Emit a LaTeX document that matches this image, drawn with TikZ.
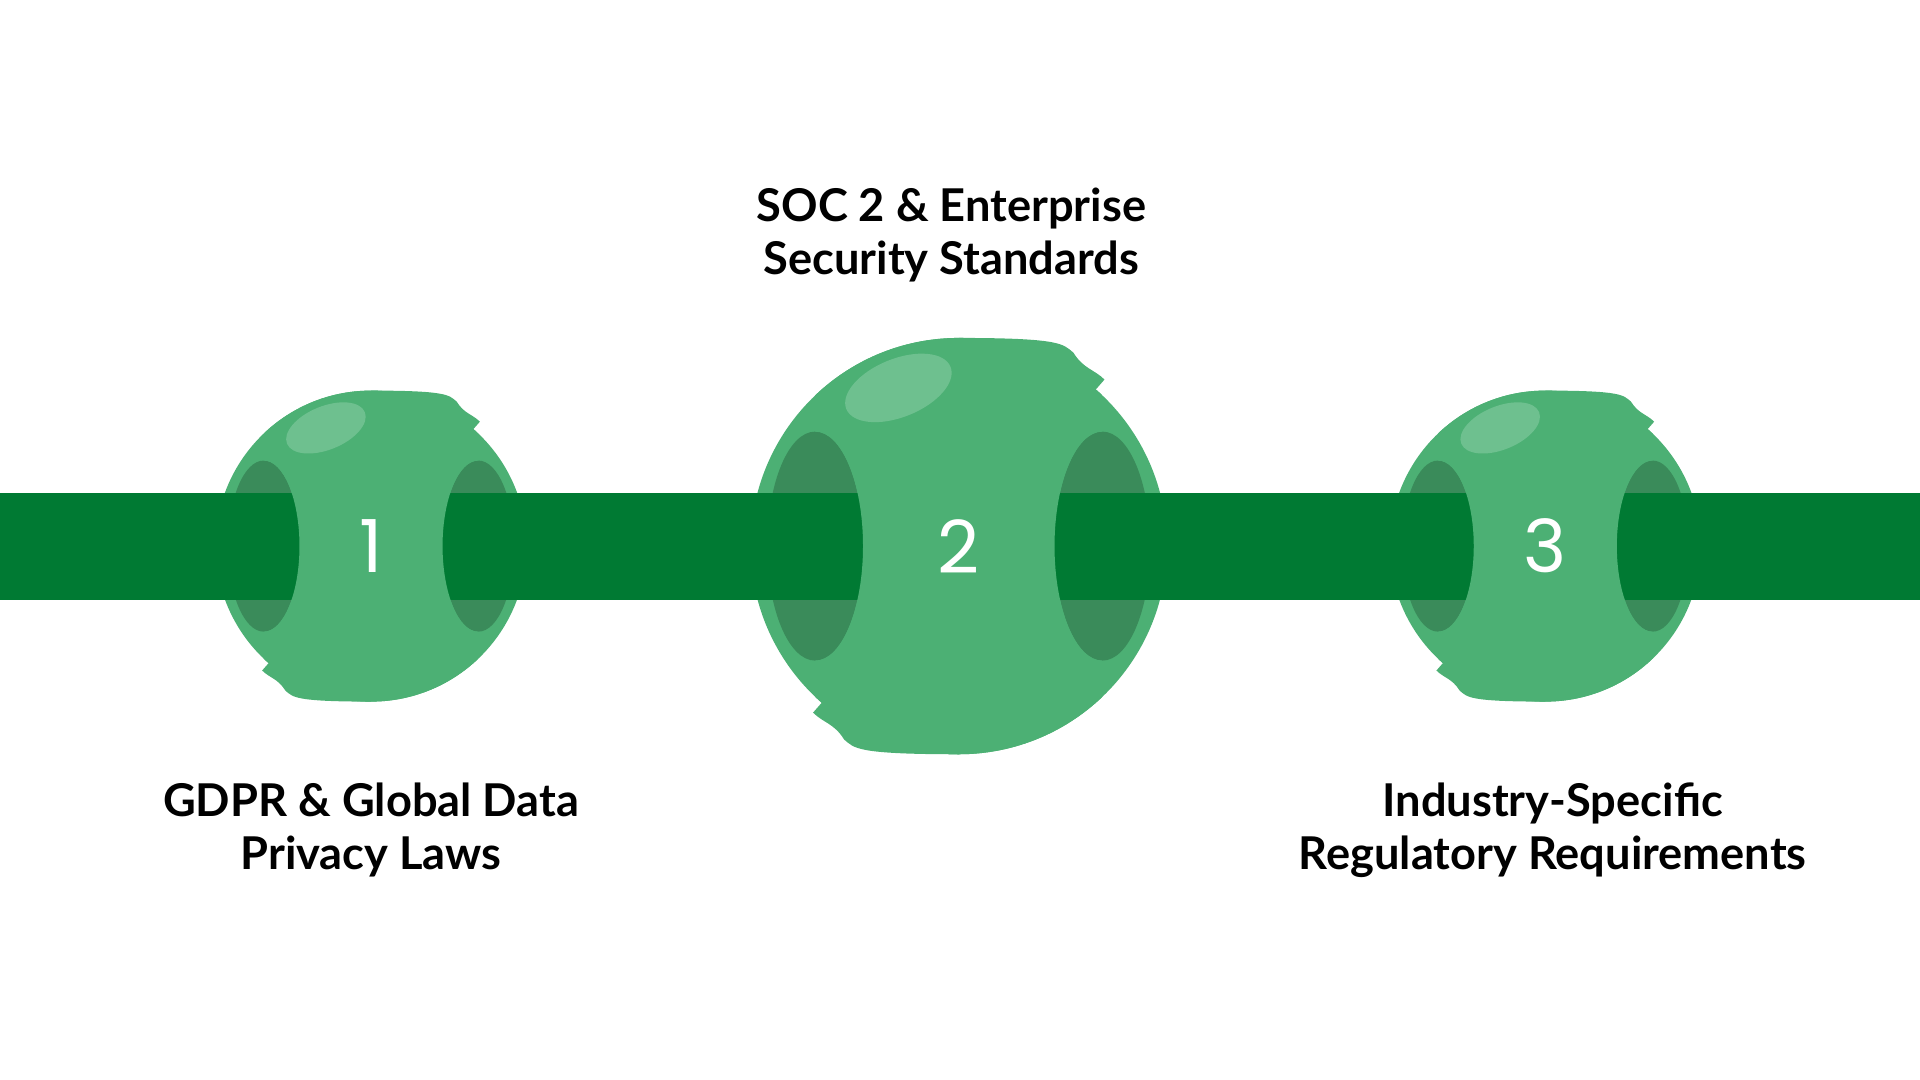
\documentclass[tikz,border=0pt]{standalone}
\usepackage{fontspec}
\setmainfont{Lato}
\newfontfamily\numfont{Poppins}
\usetikzlibrary{positioning}
\definecolor{bargreen}{HTML}{007A33}
\definecolor{ballgreen}{HTML}{4CB074}
\definecolor{holegreen}{HTML}{3A8B5A}
\definecolor{shinegreen}{HTML}{6EC08F}
\newcommand{\stepball}[4]{% name, x, radius, number
  \begin{scope}[shift={(#2,436)}]
    \fill[ballgreen] (0,0) circle (#3);
    \fill[ballgreen] (0,#3) .. controls (0.5*#3,#3) and (0.5*#3,0.97*#3) .. (0.55*#3,0.93*#3)
      .. controls (0.6*#3,0.85*#3) and (0.65*#3,0.85*#3) .. (0.7*#3,0.8*#3) -- (0,0) -- cycle;
    \fill[ballgreen] (0,-#3) .. controls (-0.5*#3,-#3) and (-0.5*#3,-0.97*#3) .. (-0.55*#3,-0.93*#3)
      .. controls (-0.6*#3,-0.85*#3) and (-0.65*#3,-0.85*#3) .. (-0.7*#3,-0.8*#3) -- (0,0) -- cycle;
    \fill[holegreen] (-0.69*#3,0) ellipse ({0.23*#3} and {0.55*#3});
    \fill[holegreen] (0.69*#3,0) ellipse ({0.23*#3} and {0.55*#3});
  \end{scope}
}
\newcommand{\stepfront}[4]{%
  \begin{scope}[shift={(#2,436)}]
    \begin{scope}
      \clip (-0.69*#3,1.2*#3) -- (-0.69*#3,0.55*#3) arc (90:-90:{0.23*#3} and {0.55*#3})
        -- (-0.69*#3,-1.2*#3) -- (0.69*#3,-1.2*#3) -- (0.69*#3,-0.55*#3)
        arc (270:90:{0.23*#3} and {0.55*#3}) -- (0.69*#3,1.2*#3) -- cycle;
      \fill[ballgreen] (0,0) circle (#3);
    \end{scope}
    \fill[shinegreen, rotate around={22:(-0.29*#3,0.76*#3)}] (-0.29*#3,0.76*#3) ellipse ({0.27*#3} and {0.14*#3});
    \node[font=\numfont\fontsize{#4}{#4}\selectfont, text=white] (#1) at (0,0) {\ballnum};
  \end{scope}
}
\begin{document}
\begin{tikzpicture}[x=0.01cm,y=0.01cm,
    label text/.style={font=\fontsize{10.5}{12.2}\selectfont\bfseries, align=center, text=black}]
  \useasboundingbox (0,0) rectangle (1568,882);
  \stepball{b1}{303}{127}{}
  \stepball{b2}{783}{170}{}
  \stepball{b3}{1262}{127}{}
  % bar
  \fill[bargreen] (0,392) rectangle (1568,479);
  \def\ballnum{1}\stepfront{n1}{303}{127}{17}
  \def\ballnum{2}\stepfront{n2}{783}{170}{17}
  \def\ballnum{3}\stepfront{n3}{1262}{127}{17}
  % labels
  \node[label text] (t1) at (303,204) {GDPR \& Global Data\\Privacy Laws};
  \node[label text] (t2) at (777,690) {SOC 2 \& Enterprise\\Security Standards};
  \node[label text] (t3) at (1268,204) {Industry-Specific\\Regulatory Requirements};
\end{tikzpicture}
\end{document}
